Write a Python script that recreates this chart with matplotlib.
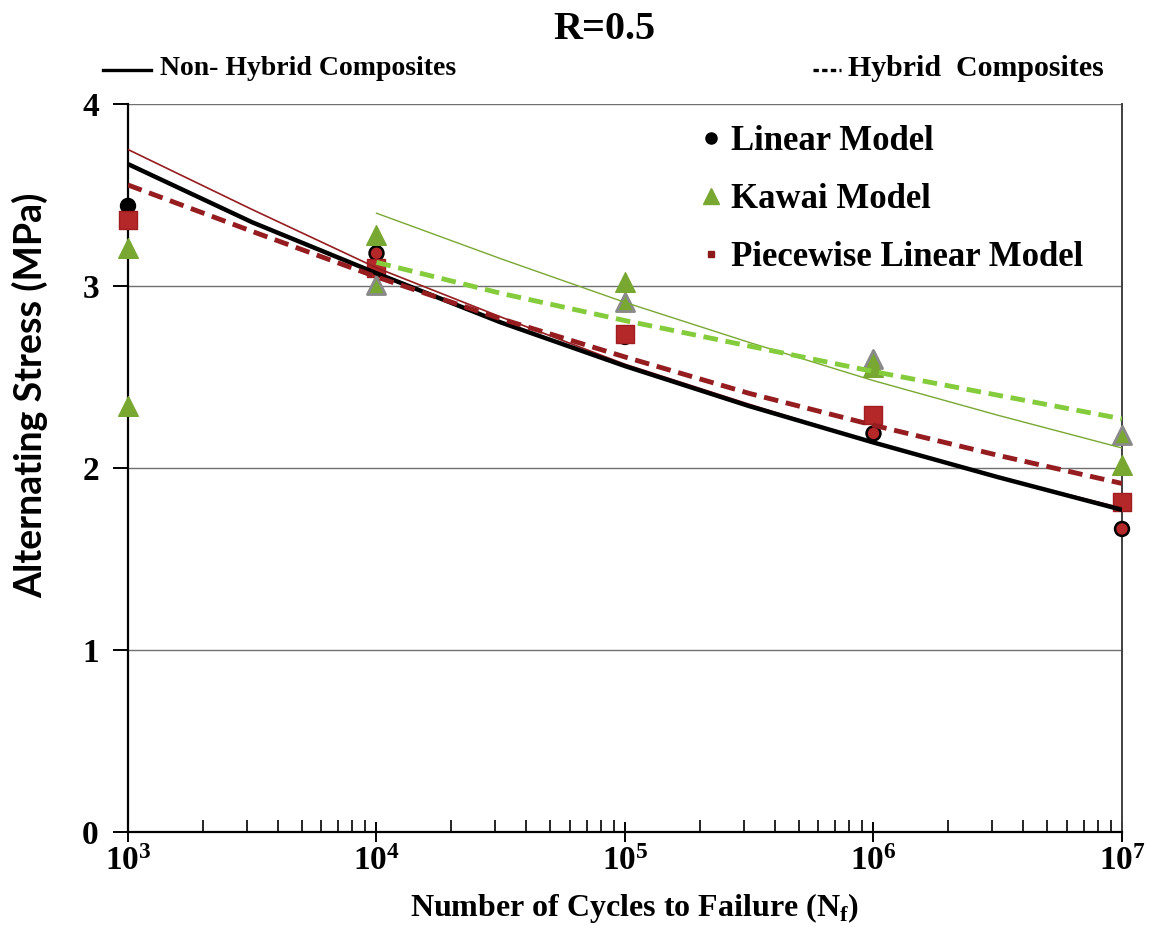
import numpy as np
import matplotlib.pyplot as plt
from matplotlib.lines import Line2D

# cycles (decades)
cycles = [1e3, 1e4, 1e5, 1e6, 1e7]

# marker values
linear_pts = [3.44, 3.18, 2.72, 2.19, 1.665]
linear_face = ['black', '#B5282A', '#B5282A', '#B5282A', '#B5282A']
piecewise_pts = [3.36, 3.10, 2.735, 2.29, 1.815]
kawai_cycles = [1e3, 1e3, 1e4, 1e5, 1e6, 1e7]
kawai_pts = [3.21, 2.34, 3.28, 3.02, 2.557, 2.016]
kawai_h_cycles = [1e4, 1e5, 1e6, 1e7]
kawai_h_pts = [3.005, 2.91, 2.60, 2.18]

# trend lines (decades and half decades)
line_x = [1e3, 10**3.5, 1e4, 10**4.5, 1e5, 10**5.5, 1e6, 10**6.5, 1e7]
nonhyb_linear = [3.67, 3.35, 3.07, 2.80, 2.56, 2.34, 2.14, 1.95, 1.77]
nonhyb_piece = [3.75, 3.42, 3.10, 2.83, 2.57, 2.35, 2.14, 1.95, 1.78]
hyb_piece = [3.555, 3.30, 3.05, 2.82, 2.61, 2.41, 2.235, 2.07, 1.915]
kawai_x = [1e4, 10**4.5, 1e5, 10**5.5, 1e6, 10**6.5, 1e7]
nonhyb_kawai = [3.40, 3.15, 2.91, 2.69, 2.48, 2.29, 2.11]
hyb_kawai = [3.13, 2.96, 2.81, 2.67, 2.53, 2.40, 2.27]

dark_red = '#951C1F'
green = '#78A832'
light_green = '#84CC3C'
serif = ['Liberation Serif', 'DejaVu Serif']

fig = plt.figure(figsize=(11.49, 9.27), dpi=100)
ax = fig.add_axes([0.1114, 0.1025, 0.8651, 0.7853])

ax.grid(True, axis='y', color='#707070', linewidth=1.0)
ax.set_axisbelow(True)

# markers
ax.scatter(cycles, linear_pts, s=100, facecolors=linear_face, edgecolors='black',
           linewidths=1.8, zorder=3, clip_on=False)
ax.scatter(cycles, piecewise_pts, s=150, marker='s', color='#B5282A',
           edgecolors='#A01E20', zorder=3, clip_on=False)
ax.scatter(kawai_h_cycles, kawai_h_pts, s=170, marker='^', color=green,
           edgecolors='#8A8A8A', linewidths=2, zorder=3, clip_on=False)
ax.scatter(kawai_cycles, kawai_pts, s=200, marker='^', color=green,
           edgecolors=green, zorder=3, clip_on=False)

# lines
ax.plot(line_x, nonhyb_piece, color=dark_red, lw=1.2, zorder=4)
ax.plot(line_x, nonhyb_linear, color='black', lw=3.2, zorder=4)
ax.plot(line_x, hyb_piece, color=dark_red, lw=3.5, dashes=(3, 1.6), zorder=4)
ax.plot(kawai_x, nonhyb_kawai, color=green, lw=1.0, zorder=4)
ax.plot(kawai_x, hyb_kawai, color=light_green, lw=3.5, dashes=(3, 1.6), zorder=4)

ax.set_xscale('log')
ax.set_xlim(1e3, 1e7)
ax.set_ylim(0, 4)
ax.set_yticks([0, 1, 2, 3, 4])

for s in ['left', 'bottom']:
    ax.spines[s].set_color('black')
    ax.spines[s].set_linewidth(1.6)
ax.spines['top'].set_visible(False)
ax.spines['right'].set_color('#404040')
ax.spines['right'].set_linewidth(1.4)

ax.tick_params(axis='x', which='major', direction='inout', length=14, width=1.4,
               pad=3)
ax.tick_params(axis='x', which='minor', direction='in', length=9, width=1.2)
ax.tick_params(axis='y', direction='out', length=11, width=1.4, pad=10)
ax.tick_params(labelsize=24)
for lab in ax.get_xticklabels() + ax.get_yticklabels():
    lab.set_family(serif)
    lab.set_fontweight('bold')

ax.set_xlabel('Number of Cycles to Failure (N$_\\mathregular{f}$)', family=serif,
              fontweight='bold', fontsize=23, va='center')
ax.xaxis.set_label_coords(0.51, -0.104)
ax.set_ylabel('Alternating Stress (MPa)', family=['Lato', 'DejaVu Sans'],
              fontweight='bold', fontsize=27, va='center')
ax.yaxis.set_label_coords(-0.098, 0.60)

fig.text(0.526, 0.968, 'R=0.5', family=serif, fontweight='bold', fontsize=29,
         ha='center', va='center')

# top line-style key
fig.add_artist(Line2D([0.09, 0.131], [0.924, 0.924], color='black', lw=2.4))
fig.text(0.139, 0.926, 'Non- Hybrid Composites', family=serif, fontweight='bold',
         fontsize=20, va='center')
fig.add_artist(Line2D([0.708, 0.732], [0.924, 0.924], color='black', lw=2.4,
                      dashes=(1.6, 1.0)))
fig.text(0.738, 0.926, 'Hybrid  Composites', family=serif, fontweight='bold',
         fontsize=21.5, va='center')

handles = [
    Line2D([], [], ls='none', marker='o', color='black', markersize=8),
    Line2D([], [], ls='none', marker='^', color=green, markersize=11),
    Line2D([], [], ls='none', marker='s', color='#8B1A1A', markersize=5),
]
ax.legend(handles, ['Linear Model', 'Kawai Model', 'Piecewise Linear Model'],
          loc='upper left', bbox_to_anchor=(0.552, 1.0), frameon=False,
          handletextpad=0.15, handlelength=0.8, labelspacing=0.72,
          borderaxespad=0.2,
          prop={'family': serif, 'weight': 'bold', 'size': 25})

fig.savefig('out.png', dpi=100, facecolor='white')
